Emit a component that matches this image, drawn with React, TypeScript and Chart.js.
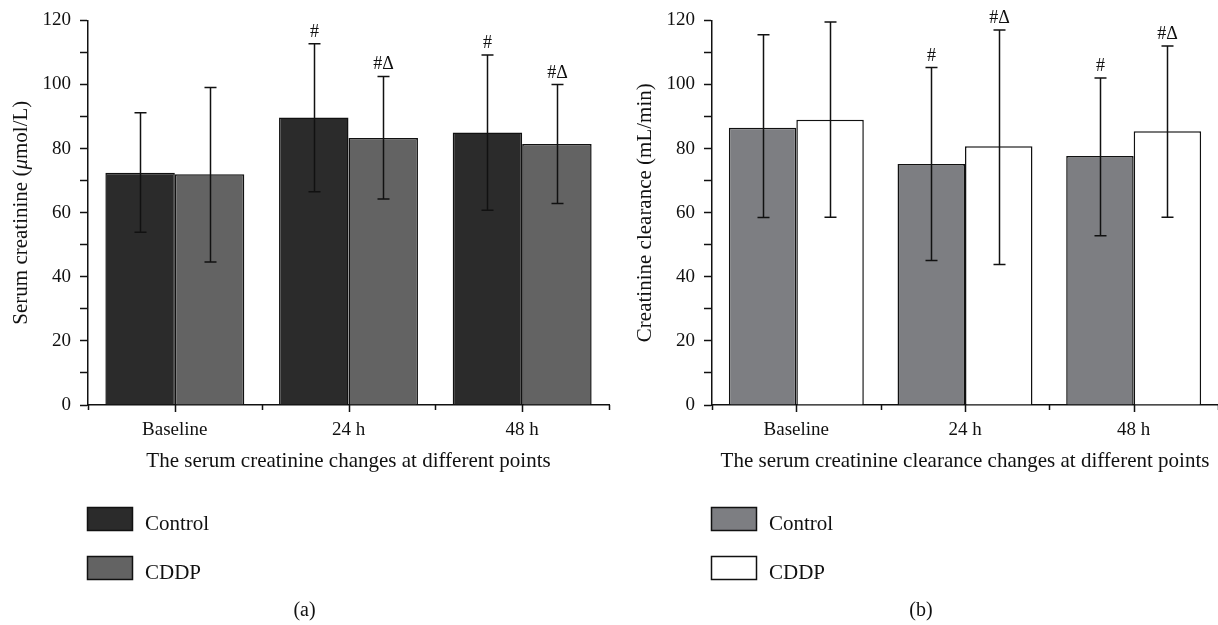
import React, { useEffect, useRef } from "react";
import { Chart, registerables } from "chart.js";
Chart.register(...registerables);

const SERIF = '"Liberation Serif", "Times New Roman", serif';
const INK = "#111111";

const categories = ["Baseline", "24 h", "48 h"];
const seriesNames = ["Control", "CDDP"];
const yTickStep = 10;
const yLabelEvery = 20;
const yMin = 0;
const yMax = 120;

// Panel (a): serum creatinine
const creatControl = [72.5, 89.7, 85.0];
const creatCDDP = [72.0, 83.3, 81.4];
const creatControlHigh = [91.2, 112.7, 109.2];
const creatControlLow = [53.9, 66.5, 60.8];
const creatCDDPHigh = [99.1, 102.5, 100.0];
const creatCDDPLow = [44.6, 64.3, 62.9];
const creatControlMarks = ["", "#", "#"];
const creatCDDPMarks = ["", "#Δ", "#Δ"];

// Panel (b): creatinine clearance
const clearControl = [86.5, 75.2, 77.7];
const clearCDDP = [89.0, 80.7, 85.4];
const clearControlHigh = [115.5, 105.3, 102.0];
const clearControlLow = [58.5, 45.1, 52.8];
const clearCDDPHigh = [119.5, 117.0, 112.0];
const clearCDDPLow = [58.6, 43.8, 58.6];
const clearControlMarks = ["", "#", "#"];
const clearCDDPMarks = ["", "#Δ", "#Δ"];

type Part = { t: string; italic?: boolean };

type PanelCfg = {
  values: number[][];
  highs: number[][];
  lows: number[][];
  marks: string[][];
  colors: string[];
  yTitle: Part[];
  xTitle: string;
  caption: string;
  padRight: number;
};

const panelA: PanelCfg = {
  values: [creatControl, creatCDDP],
  highs: [creatControlHigh, creatCDDPHigh],
  lows: [creatControlLow, creatCDDPLow],
  marks: [creatControlMarks, creatCDDPMarks],
  colors: ["#2b2b2b", "#636363"],
  yTitle: [{ t: "Serum creatinine (" }, { t: "μ", italic: true }, { t: "mol/L)" }],
  xTitle: "The serum creatinine changes at different points",
  caption: "(a)",
  padRight: 11,
};

const panelB: PanelCfg = {
  values: [clearControl, clearCDDP],
  highs: [clearControlHigh, clearCDDPHigh],
  lows: [clearControlLow, clearCDDPLow],
  marks: [clearControlMarks, clearCDDPMarks],
  colors: ["#7d7e82", "#ffffff"],
  yTitle: [{ t: "Creatinine clearance (mL/min)" }],
  xTitle: "The serum creatinine clearance changes at different points",
  caption: "(b)",
  padRight: 0,
};

function makeExtras(p: PanelCfg) {
  return {
    id: "extras",
    afterDraw(chart: any) {
      const ctx: CanvasRenderingContext2D = chart.ctx;
      const xs = chart.scales.x;
      const ys = chart.scales.y;
      const ca = chart.chartArea;
      ctx.save();
      ctx.strokeStyle = INK;
      ctx.fillStyle = INK;

      // error bars + significance marks
      p.highs.forEach((hi, di) => {
        const meta = chart.getDatasetMeta(di);
        meta.data.forEach((bar: any, i: number) => {
          const top = ys.getPixelForValue(hi[i]);
          const bot = ys.getPixelForValue(p.lows[di][i]);
          const bx = Math.round(bar.x) + 0.5;
          ctx.lineWidth = 1.5;
          ctx.beginPath();
          ctx.moveTo(bx, top);
          ctx.lineTo(bx, bot);
          ctx.moveTo(bx - 6, top);
          ctx.lineTo(bx + 6, top);
          ctx.moveTo(bx - 6, bot);
          ctx.lineTo(bx + 6, bot);
          ctx.stroke();
          const m = p.marks[di][i];
          if (m) {
            ctx.font = `18px ${SERIF}`;
            ctx.textAlign = "center";
            ctx.textBaseline = "alphabetic";
            ctx.fillText(m, bx, top - 7);
          }
        });
      });

      // x-axis tick marks (centres and boundaries)
      const c0 = xs.getPixelForValue(0);
      const c1 = xs.getPixelForValue(1);
      const half = (c1 - c0) / 2;
      ctx.lineWidth = 1.5;
      ctx.beginPath();
      categories.forEach((_, i) => {
        const cx = Math.round(xs.getPixelForValue(i)) + 0.5;
        ctx.moveTo(cx, ca.bottom);
        ctx.lineTo(cx, ca.bottom + 7);
        const bx = Math.round(xs.getPixelForValue(i) + half) + 0.5;
        ctx.moveTo(bx, ca.bottom);
        ctx.lineTo(bx, ca.bottom + 5);
        if (i === 0) {
          const lx = Math.round(xs.getPixelForValue(i) - half) + 0.5;
          ctx.moveTo(lx, ca.bottom);
          ctx.lineTo(lx, ca.bottom + 5);
        }
      });
      ctx.stroke();

      // x title
      ctx.font = `21px ${SERIF}`;
      ctx.textAlign = "center";
      ctx.textBaseline = "alphabetic";
      ctx.fillText(p.xTitle, (ca.left + ca.right) / 2, ca.bottom + 62);

      // y title (rotated, mixed fonts)
      ctx.save();
      ctx.translate(21, (ca.top + ca.bottom) / 2);
      ctx.rotate(-Math.PI / 2);
      ctx.textBaseline = "middle";
      ctx.textAlign = "left";
      const fontOf = (pt: Part) => `${pt.italic ? "italic " : ""}21px ${SERIF}`;
      let total = 0;
      p.yTitle.forEach((pt) => {
        ctx.font = fontOf(pt);
        total += ctx.measureText(pt.t).width;
      });
      let pos = -total / 2;
      p.yTitle.forEach((pt) => {
        ctx.font = fontOf(pt);
        ctx.fillText(pt.t, pos, 0);
        pos += ctx.measureText(pt.t).width;
      });
      ctx.restore();

      // legend
      chart.data.datasets.forEach((ds: any, di: number) => {
        const bx = ca.left - 0.5;
        const by = ca.bottom + 102 + di * 49 + 0.5;
        ctx.fillStyle = ds.backgroundColor;
        ctx.fillRect(bx, by, 45, 23);
        ctx.lineWidth = 1.5;
        ctx.strokeStyle = INK;
        ctx.strokeRect(bx, by, 45, 23);
        ctx.fillStyle = INK;
        ctx.font = `21px ${SERIF}`;
        ctx.textAlign = "left";
        ctx.textBaseline = "alphabetic";
        ctx.fillText(ds.label, ca.left + 57, by + 22);
      });

      // caption
      ctx.font = `20px ${SERIF}`;
      ctx.textAlign = "center";
      ctx.fillText(p.caption, (ca.left - 88 + ca.right) / 2, ca.bottom + 211);

      ctx.restore();
    },
  };
}

function buildChart(canvas: HTMLCanvasElement, p: PanelCfg) {
  return new Chart(canvas, {
    type: "bar",
    data: {
      labels: categories,
      datasets: seriesNames.map((name, i) => ({
        label: name,
        data: p.values[i],
        backgroundColor: p.colors[i],
        borderColor: INK,
        borderWidth: 1.5,
        categoryPercentage: 0.8,
        barPercentage: 1,
      })),
    },
    options: {
      responsive: false,
      animation: false,
      layout: { padding: { top: 16, right: p.padRight, left: 0, bottom: 0 } },
      plugins: { legend: { display: false }, tooltip: { enabled: false } },
      scales: {
        x: {
          grid: { display: false, drawTicks: false },
          border: { display: true, color: INK, width: 1.5 },
          ticks: { color: INK, font: { family: SERIF, size: 19 }, padding: 14, maxRotation: 0 },
          afterFit: (s: any) => {
            s.height = 220;
          },
        },
        y: {
          min: yMin,
          max: yMax,
          grid: { display: true, drawOnChartArea: false, drawTicks: true, tickLength: 8, tickWidth: 1.5, tickColor: INK },
          border: { display: true, color: INK, width: 1.5 },
          ticks: {
            stepSize: yTickStep,
            autoSkip: false,
            padding: 9,
            color: INK,
            font: { family: SERIF, size: 19 },
            callback: (v: any) => (Number(v) % yLabelEvery === 0 ? String(v) : ""),
          },
          afterFit: (s: any) => {
            s.width = 88;
          },
        },
      },
    } as any,
    plugins: [makeExtras(p)],
  });
}

export default function App() {
  const refA = useRef<HTMLCanvasElement>(null);
  const refB = useRef<HTMLCanvasElement>(null);
  useEffect(() => {
    const a = buildChart(refA.current!, panelA);
    const b = buildChart(refB.current!, panelB);
    return () => {
      a.destroy();
      b.destroy();
    };
  }, []);
  return (
    <div style={{ position: "absolute", left: 0, top: 0, width: 1218, height: 625, background: "#fff", overflow: "hidden" }}>
      <canvas ref={refA} width={620} height={625} style={{ position: "absolute", left: 0, top: 0, width: 620, height: 625 }} />
      <canvas ref={refB} width={594} height={625} style={{ position: "absolute", left: 624, top: 0, width: 594, height: 625 }} />
    </div>
  );
}
